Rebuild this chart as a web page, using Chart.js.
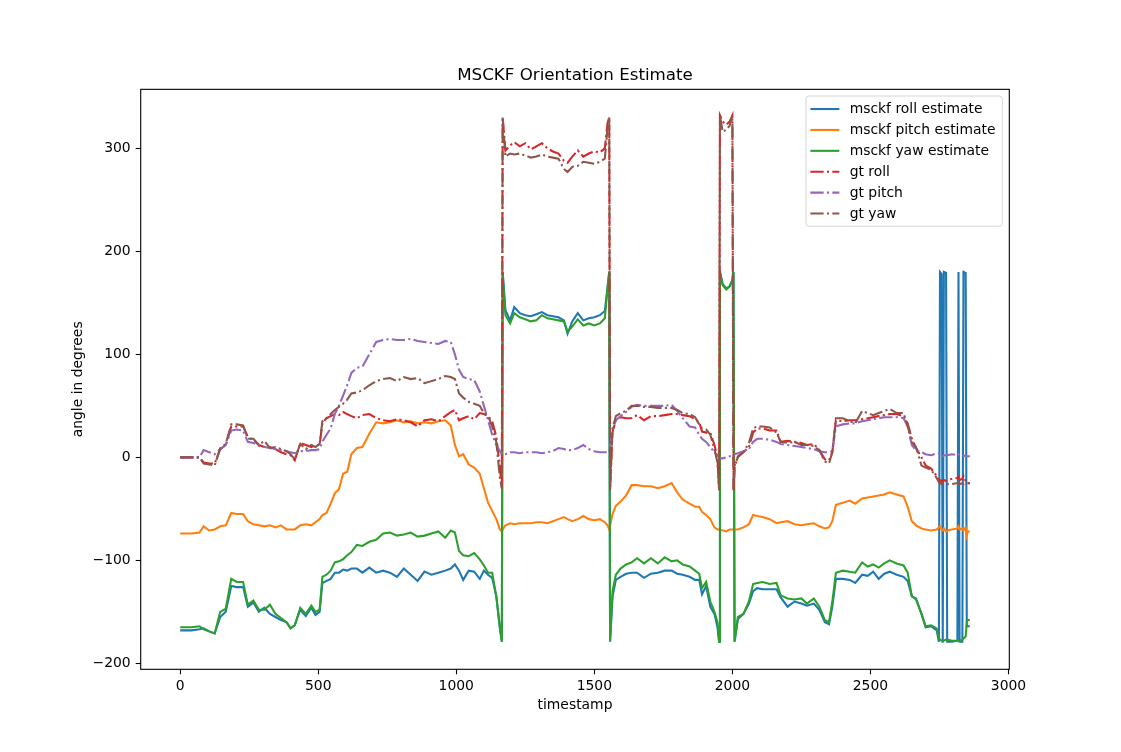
<!DOCTYPE html>
<html>
<head>
<meta charset="utf-8">
<title>MSCKF Orientation Estimate</title>
<script src="https://cdn.jsdelivr.net/npm/chart.js@4.4.1/dist/chart.umd.min.js"></script>
<style>
    html, body { margin: 0; padding: 0; background: #ffffff; }
    #wrap { width: 1121px; height: 752px; }
</style>
</head>
<body>
<div id="wrap"><canvas id="orientationChart" width="1121" height="752"></canvas></div>
<script>
// Sample times (shared by every series)
const timestamps = [
    0, 40, 70, 85, 105, 125, 145, 165, 185, 205,
    228, 245, 265, 285, 305, 325, 345, 365, 385, 400,
    415, 435, 455, 475, 490, 505, 515, 530, 545, 560,
    575, 590, 605, 620, 640, 660, 685, 710, 735, 760,
    785, 810, 835, 860, 885, 910, 935, 960, 980, 995,
    1010, 1025, 1045, 1065, 1085, 1100, 1115, 1130, 1145, 1158,
    1165, 1168, 1178, 1195, 1210, 1230, 1250, 1270, 1290, 1310,
    1330, 1350, 1370, 1390, 1403, 1420, 1440, 1460, 1480, 1500,
    1520, 1538, 1548, 1554, 1557, 1566, 1578, 1595, 1615, 1635,
    1655, 1680, 1705, 1730, 1755, 1780, 1800, 1820, 1845, 1865,
    1880, 1890, 1905, 1920, 1935, 1946, 1952, 1955, 1965, 1978,
    1990, 2000, 2004, 2008, 2020, 2040, 2060, 2075, 2090, 2110,
    2135, 2160, 2175, 2200, 2225, 2250, 2270, 2295, 2315, 2335,
    2350, 2362, 2375, 2400, 2425, 2445, 2470, 2490, 2510, 2530,
    2550, 2570, 2595, 2620, 2635, 2650, 2665, 2685, 2700, 2720,
    2740, 2748, 2752, 2758, 2762, 2766, 2774, 2778, 2795, 2815,
    2819, 2823, 2833, 2837, 2845, 2849, 2853, 2860
];

// msckf estimates (degrees)
const msckfRoll = [
    -168, -168, -167, -166, -169, -171, -155, -150, -125, -126,
    -126, -145, -141, -150, -146, -152, -155, -158, -160, -166,
    -163, -148, -154, -146, -153, -150, -122, -120, -118, -112,
    -112, -109, -110, -108, -108, -112, -107, -112, -110, -112,
    -116, -108, -114, -120, -111, -114, -112, -110, -108, -104,
    -110, -119, -110, -111, -118, -110, -114, -117, -135, -166,
    -179, 180, 143, 133, 146, 140, 138, 137, 139, 141,
    138, 137, 136, 133, 120, 132, 140, 133, 135, 136,
    138, 142, 165, 180, -179, -135, -119, -116, -113, -112,
    -112, -117, -113, -112, -110, -110, -113, -114, -116, -119,
    -119, -133, -125, -145, -152, -165, -179, 180, 168, 164,
    166, 172, 180, -179, -157, -152, -142, -130, -127, -128,
    -128, -128, -136, -145, -140, -142, -144, -142, -148, -160,
    -162, -145, -118, -118, -119, -122, -114, -115, -111, -118,
    -113, -111, -114, -116, -120, -135, -137, -152, -165, -164,
    -168, -179, 180, 178, -180, 180, 179, -179, -179, -178,
    180, -179, -179, 180, 179, -164, -164, -164
];

const msckfPitch = [
    -74, -74, -73, -67, -71, -70, -67, -66, -54, -55,
    -55, -62, -65, -66, -67, -66, -68, -66, -70, -70,
    -70, -66, -65, -66, -63, -60, -56, -54, -45, -35,
    -31, -16, -14, 3, 9, 10, 23, 34, 33, 34,
    36, 34, 35, 33, 34, 33, 35, 36, 31, 12,
    1, 3, -7, -10, -16, -30, -44, -52, -60, -70,
    -72, -70, -66, -64, -65, -64, -64, -64, -63, -63,
    -64, -62, -60, -58, -60, -62, -60, -57, -60, -61,
    -60, -63, -66, -70, -66, -55, -47, -43, -37, -27,
    -27, -28, -28, -30, -28, -25, -34, -41, -45, -48,
    -48, -53, -56, -60, -68, -70, -70, -70, -71, -72,
    -70, -70, -70, -70, -70, -68, -65, -56, -57, -58,
    -60, -64, -63, -62, -65, -66, -65, -64, -67, -69,
    -68, -62, -46, -44, -42, -45, -40, -39, -38, -37,
    -36, -34, -36, -38, -48, -62, -66, -69, -70, -71,
    -70, -68, -67, -70, -71, -69, -72, -71, -70, -69,
    -67, -70, -69, -71, -68, -76, -72, -72
];

const msckfYaw = [
    -165, -165, -164, -167, -169, -171, -150, -147, -118, -121,
    -121, -143, -139, -148, -148, -143, -152, -156, -160, -166,
    -163, -146, -152, -144, -150, -148, -116, -114, -110, -102,
    -101, -99, -95, -92, -85, -86, -82, -80, -74, -73,
    -76, -75, -73, -77, -76, -74, -72, -78, -71, -73,
    -91, -95, -96, -93, -99, -105, -112, -112, -135, -165,
    -179, 180, 138, 130, 140, 136, 134, 132, 133, 138,
    135, 134, 133, 132, 122, 127, 134, 128, 130, 128,
    130, 135, 165, 180, -178, -130, -114, -108, -104, -102,
    -98, -103, -98, -103, -97, -101, -100, -104, -106, -110,
    -113, -127, -121, -140, -150, -160, -179, 180, 167, 163,
    166, 172, 180, -179, -155, -152, -140, -123, -122, -121,
    -123, -122, -134, -137, -138, -137, -142, -137, -145, -158,
    -160, -140, -112, -110, -111, -112, -102, -106, -104, -107,
    -103, -100, -103, -105, -112, -135, -138, -152, -164, -163,
    -166, -176, -177, -178, -178, -178, -177, -177, -178, -178,
    -178, -178, -177, -176, -174, -160, -158, -158
];

// ground truth (degrees)
const gtRoll = [
    0, 0, 0, -5, -6, -6, 8, 12, 30, 30,
    30, 20, 17, 12, 10, 10, 8, 5, 3, 2,
    -3, 14, 12, 10, 12, 12, 33, 38, 40, 42,
    41, 44, 42, 40, 38, 41, 42, 38, 36, 35,
    37, 36, 34, 30, 36, 37, 35, 40, 44, 46,
    36, 38, 40, 37, 43, 42, 40, 35, 20, -10,
    -30, 330, 298, 303, 306, 302, 305, 299, 302, 305,
    300, 297, 295, 288, 286, 292, 298, 292, 295, 297,
    296, 300, 325, 330, -32, 25, 36, 39, 38, 38,
    41, 36, 40, 40, 41, 42, 42, 41, 40, 37,
    34, 25, 24, 24, 12, 0, -32, 332, 326, 323,
    326, 332, -32, -10, 1, 5, 10, 24, 28, 28,
    26, 26, 15, 16, 15, 14, 12, 13, 7, -2,
    -3, 5, 36, 35, 36, 36, 37, 38, 39, 40,
    41, 42, 42, 40, 33, 18, 9, 0, -8, -11,
    -18, -22, -22, -24, -22, -22, -23, -22, -21, -20,
    -19, -22, -21, -18, -23, -25, -25, -25
];

const gtPitch = [
    0, 0, 0, 7, 5, 3, 8, 12, 26, 27,
    26, 15, 14, 11, 10, 9, 8, 7, 6, 5,
    4, 6, 6, 7, 7, 8, 15, 22, 28, 42,
    50, 60, 70, 82, 87, 88, 100, 112, 114, 115,
    114, 114, 115, 113, 112, 111, 110, 113, 112, 100,
    85, 78, 76, 75, 64, 50, 36, 22, 12, 6,
    3, 2, 3, 5, 5, 4, 5, 5, 5, 4,
    5, 6, 9, 8, 7, 7, 9, 12, 8, 6,
    5, 5, 5, 5, 12, 27, 36, 40, 44, 49,
    51, 50, 50, 50, 50, 51, 45, 38, 30, 29,
    22, 18, 15, 10, 5, 2, 0, -1, -1, 0,
    1, 2, 3, 3, 4, 6, 8, 15, 18, 18,
    17, 15, 13, 12, 11, 10, 9, 8, 6, 5,
    5, 6, 30, 32, 33, 33, 35, 36, 37, 38,
    39, 39, 39, 38, 30, 12, 7, 5, 3, 2,
    4, 4, 3, 2, 1, 2, 2, 2, 3, 2,
    3, 2, 1, 2, 1, 1, 1, 1
];

const gtYaw = [
    0, 0, 0, -6, -7, -8, 9, 13, 32, 32,
    31, 18, 18, 12, 16, 9, 10, 8, 6, 3,
    -2, 13, 8, 12, 10, 13, 35, 38, 42, 46,
    49, 52, 56, 62, 63, 65, 70, 74, 76, 77,
    74, 78, 76, 77, 72, 74, 76, 79, 78, 76,
    62, 58, 54, 52, 50, 43, 40, 30, 15, -20,
    -30, 330, 292, 295, 294, 295, 293, 291, 292, 294,
    292, 291, 290, 280, 277, 282, 283, 287, 286, 285,
    287, 290, 320, 330, -32, 28, 40, 43, 45, 50,
    50, 49, 49, 48, 48, 48, 46, 43, 42, 39,
    32, 28, 27, 22, 8, -5, -32, 332, 316, 318,
    322, 332, -32, -8, 0, 5, 14, 28, 30, 30,
    29, 24, 15, 14, 15, 12, 12, 11, 7, -4,
    -6, 5, 38, 38, 35, 33, 45, 43, 41, 43,
    45, 47, 43, 43, 30, 15, 10, -8, -10, -12,
    -20, -24, -25, -26, -25, -26, -26, -26, -26, -25,
    -26, -26, -25, -26, -25, -25, -25, -25
];

// Axis ticks
const xTicks = [0, 500, 1000, 1500, 2000, 2500, 3000];
const yTicks = [-200, -100, 0, 100, 200, 300];

const FONT = 'DejaVu Sans';
const LINE_W = 2.08;                 // 1.5pt at 100 dpi
const DASH_DOT = [13.3, 3.3, 2.1, 3.3]; // matplotlib '-.'

function toPoints(values) {
    return timestamps.map((t, i) => ({ x: t, y: values[i] }));
}

function makeSeries(label, values, color, dashed, order) {
    return {
        label: label,
        data: toPoints(values),
        borderColor: color,
        backgroundColor: color,
        borderWidth: LINE_W,
        borderDash: dashed ? DASH_DOT : [],
        pointRadius: 0,
        tension: 0,
        fill: false,
        order: order
    };
}

// matplotlib prints negatives with a real minus sign
function tickText(v) {
    return v < 0 ? '\u2212' + Math.abs(v) : String(v);
}

// Frame + in-plot legend (matplotlib style, upper right)
const framePlugin = {
    id: 'frameAndLegend',
    afterDatasetsDraw(chart) {
        const ctx = chart.ctx;
        const area = chart.chartArea;

        // spines
        ctx.save();
        ctx.strokeStyle = '#000000';
        ctx.lineWidth = 1.1;
        ctx.strokeRect(area.left, area.top, area.right - area.left, area.bottom - area.top);
        ctx.restore();

        // legend
        const sets = chart.data.datasets;
        ctx.save();
        ctx.font = '13.9px "' + FONT + '"';
        let maxW = 0;
        sets.forEach(ds => { maxW = Math.max(maxW, ctx.measureText(ds.label).width); });
        const rowH = 20.9;
        const boxW = 44 + maxW + 6.5;
        const boxH = 13 + rowH * (sets.length - 1) + 12.7;
        const boxR = area.right - 7;
        const boxL = boxR - boxW;
        const boxT = area.top + 6.7;

        ctx.beginPath();
        ctx.roundRect(boxL, boxT, boxW, boxH, 2.8);
        ctx.fillStyle = 'rgba(255,255,255,0.8)';
        ctx.fill();
        ctx.strokeStyle = 'rgba(204,204,204,0.8)';
        ctx.lineWidth = 1;
        ctx.stroke();

        sets.forEach((ds, i) => {
            const y = boxT + 13 + i * rowH;
            ctx.beginPath();
            ctx.setLineDash(ds.borderDash || []);
            ctx.strokeStyle = ds.borderColor;
            ctx.lineWidth = LINE_W;
            ctx.moveTo(boxL + 4.4, y);
            ctx.lineTo(boxL + 33.4, y);
            ctx.stroke();
            ctx.setLineDash([]);
            ctx.fillStyle = '#000000';
            ctx.textBaseline = 'middle';
            ctx.textAlign = 'left';
            ctx.fillText(ds.label, boxL + 43.7, y + 0.5);
        });
        ctx.restore();
    }
};

const ctx = document.getElementById('orientationChart').getContext('2d');

const chart = new Chart(ctx, {
    type: 'line',
    data: {
        datasets: [
            makeSeries('msckf roll estimate', msckfRoll, '#1f77b4', false, 5),
            makeSeries('msckf pitch estimate', msckfPitch, '#ff7f0e', false, 4),
            makeSeries('msckf yaw estimate', msckfYaw, '#2ca02c', false, 3),
            makeSeries('gt roll', gtRoll, '#d62728', true, 2),
            makeSeries('gt pitch', gtPitch, '#9467bd', true, 1),
            makeSeries('gt yaw', gtYaw, '#8c564b', true, 0)
        ]
    },
    options: {
        responsive: false,
        animation: false,
        devicePixelRatio: 1,
        layout: {
            padding: { left: 0, right: 111.7, top: 0, bottom: 0 }
        },
        plugins: {
            legend: { display: false },
            tooltip: { enabled: false },
            title: {
                display: true,
                fullSize: false,   // centre over the plot area, like matplotlib
                text: 'MSCKF Orientation Estimate',
                color: '#000000',
                font: { family: FONT, size: 16.7, weight: 'normal' },
                padding: { top: 66, bottom: 3.3 }
            }
        },
        scales: {
            x: {
                type: 'linear',
                min: -143,
                max: 3003,
                grid: {
                    display: true,
                    drawOnChartArea: false,
                    drawTicks: true,
                    tickLength: 5,
                    tickWidth: 1.1,
                    tickColor: '#000000'
                },
                border: { display: false },
                afterBuildTicks: scale => { scale.ticks = xTicks.map(v => ({ value: v })); },
                afterFit: scale => { scale.height = 82.7; },
                ticks: {
                    color: '#000000',
                    padding: 4,
                    maxRotation: 0,
                    autoSkip: false,
                    font: { family: FONT, size: 13.9 },
                    callback: v => tickText(v)
                },
                title: {
                    display: true,
                    text: 'timestamp',
                    color: '#000000',
                    font: { family: FONT, size: 13.9 },
                    padding: { top: 0, bottom: 38.7 }
                }
            },
            y: {
                type: 'linear',
                min: -205.8,
                max: 357.3,
                grid: {
                    display: true,
                    drawOnChartArea: false,
                    drawTicks: true,
                    tickLength: 5,
                    tickWidth: 1.1,
                    tickColor: '#000000'
                },
                border: { display: false },
                afterBuildTicks: scale => { scale.ticks = yTicks.map(v => ({ value: v })); },
                afterFit: scale => { scale.width = 140.7; },
                ticks: {
                    color: '#000000',
                    padding: 5,
                    autoSkip: false,
                    font: { family: FONT, size: 13.9 },
                    callback: v => tickText(v)
                },
                title: {
                    display: true,
                    text: 'angle in degrees',
                    color: '#000000',
                    font: { family: FONT, size: 13.9 },
                    padding: { top: 69.7, bottom: 0 }
                }
            }
        }
    },
    plugins: [framePlugin]
});
</script>
</body>
</html>
